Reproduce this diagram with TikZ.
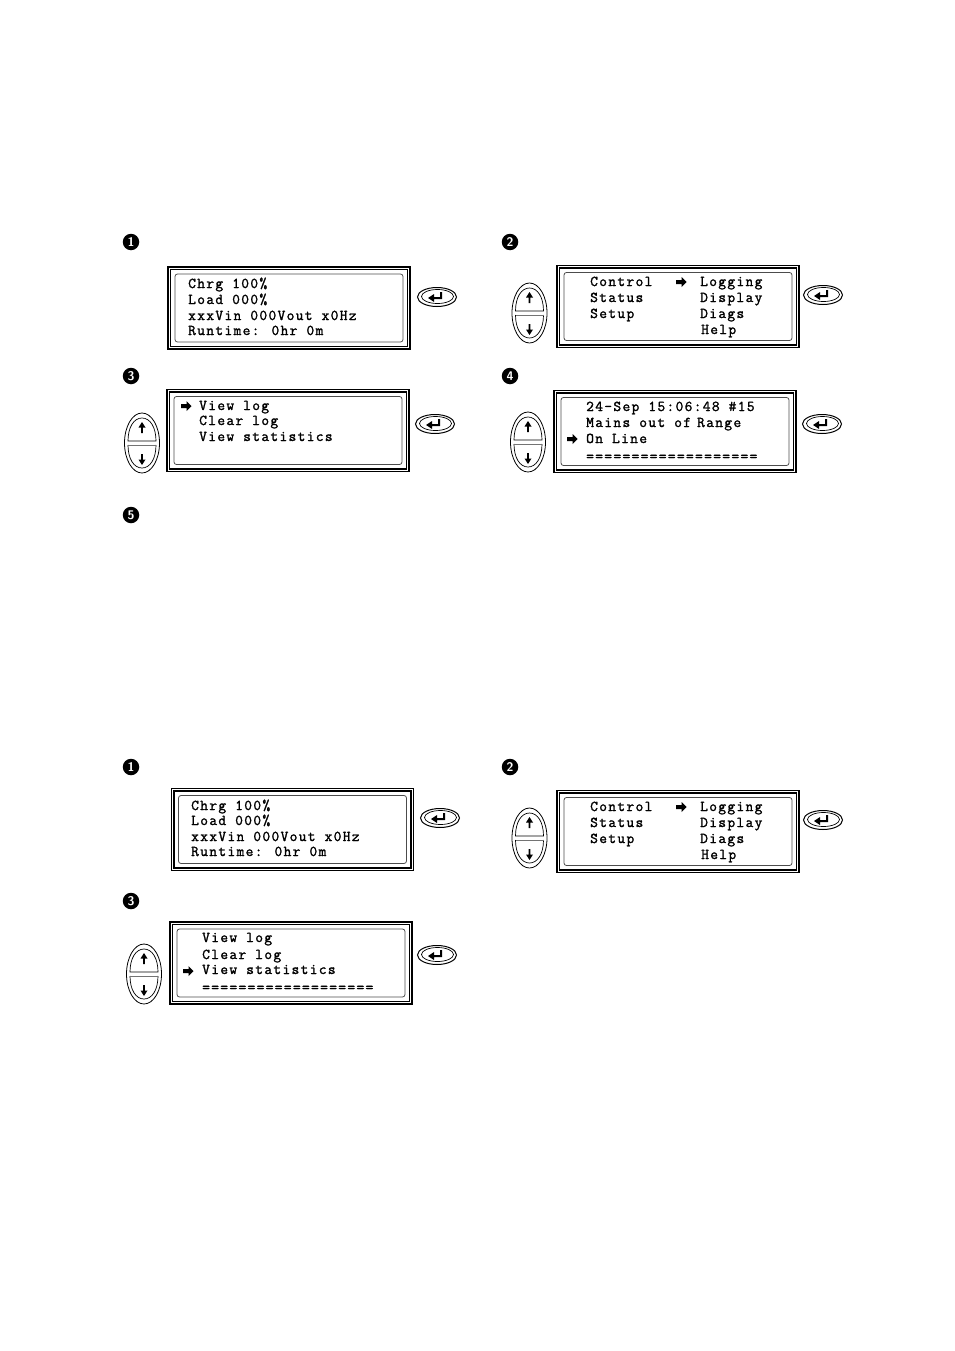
\documentclass[tikz,border=0pt]{standalone}
\usepackage{fontspec}
\usepackage{tikz}
\usetikzlibrary{positioning}
\newfontfamily\lcdfont[LetterSpace=9,FakeBold=1.6]{Latin Modern Mono}
\begin{document}
\begin{tikzpicture}
[x=1pt,y=-1pt,
bullet/.style={circle,fill=black,text=white,inner sep=0pt,minimum size=16.5pt,font=\sffamily\bfseries\fontsize{12.5}{12.5}\selectfont},
lcdframe/.style={draw=black,line width=1.2pt,double=white,double distance=1.3pt,inner sep=0pt,minimum width=239.5pt,minimum height=79.5pt},
lcdinner/.style={draw=black!70,line width=0.8pt,rounded corners=2.5pt,inner sep=0pt,minimum width=228pt,minimum height=68pt},
lcdtext/.style={anchor=base west,inner sep=0pt,font=\lcdfont\fontsize{15}{15}\selectfont},
updown/.pic={
  \draw[line width=0.8pt] (0,0) ellipse (17.5 and 30);
  \draw[line width=0.7pt] (-14,-2) .. controls (-14,-16) and (-8,-25) .. (0,-25) .. controls (8,-25) and (14,-16) .. (14,-2) -- cycle;
  \draw[line width=0.7pt] (-14,2) .. controls (-14,16) and (-8,25) .. (0,25) .. controls (8,25) and (14,16) .. (14,2);
  \draw[line width=1pt,draw=black!55] (-14,2) -- (14,2);
  \fill (0,-21) -- (3.5,-15.5) -- (0.9,-15.5) -- (0.9,-10) -- (-0.9,-10) -- (-0.9,-15.5) -- (-3.5,-15.5) -- cycle;
  \fill (0,22) -- (3.5,16.5) -- (0.9,16.5) -- (0.9,11) -- (-0.9,11) -- (-0.9,16.5) -- (-3.5,16.5) -- cycle;
},
enterkey/.pic={
  \draw[line width=1pt] (0,0) ellipse (19.5 and 9.5);
  \draw[line width=0.7pt] (0.5,-0.5) ellipse (16 and 7);
  \fill (-9,1) -- (-3,-3) -- (-3,0) -- (3,0) -- (3,-5) -- (5,-5) -- (5,2) -- (-3,2) -- (-3,5) -- cycle;
},
pointer/.pic={
  \fill (5.5,0) -- (0.5,-5) -- (0.5,-2) -- (-5,-2) -- (-5,2) -- (0.5,2) -- (0.5,5) -- cycle;
}]
\useasboundingbox (0,0) rectangle (954,1351);

% first procedure
\node[bullet] (n1) at (131,242) {1};
\node[bullet] (n2) at (510,242) {2};
\node[bullet] (n3) at (131,376) {3};
\node[bullet] (n4) at (510,376) {4};
\node[bullet] (n5) at (131,515) {5};

\node[lcdframe] (f1) at (289,308) {};
\node[lcdinner] (i1) at (289,308) {};
\node[lcdtext] (t1a) at (188,288) {Chrg 100\%};
\node[lcdtext] (t1b) at (188,304) {Load 000\%};
\node[lcdtext] (t1c) at (188,320) {xxxVin 000Vout x0Hz};
\node[lcdtext] (t1d) at (188,335) {Runtime: 0hr 0m};
\pic at (437,297) {enterkey};

\node[lcdframe] (f2) at (678,306.5) {};
\node[lcdinner] (i2) at (678,306.5) {};
\node[lcdtext] (t2a) at (590,286) {Control};
\node[lcdtext] (t2b) at (590,302) {Status};
\node[lcdtext] (t2c) at (590,318) {Setup};
\node[lcdtext] (t2d) at (700,286) {Logging};
\node[lcdtext] (t2e) at (700,302) {Display};
\node[lcdtext] (t2f) at (700,318) {Diags};
\node[lcdtext] (t2g) at (701,334) {Help};
\pic at (681,282) {pointer};
\pic at (529.5,313) {updown};
\pic at (823,295) {enterkey};

\node[lcdframe] (f3) at (288,430.5) {};
\node[lcdinner] (i3) at (288,430.5) {};
\node[lcdtext] (t3a) at (199,410) {View log};
\node[lcdtext] (t3b) at (199,425) {Clear log};
\node[lcdtext] (t3c) at (199,441) {View statistics};
\pic at (186,406) {pointer};
\pic at (142,443) {updown};
\pic at (435,424) {enterkey};

\node[lcdframe] (f4) at (675,431.5) {};
\node[lcdinner] (i4) at (675,431.5) {};
\node[lcdtext] (t4a) at (586,411) {24-Sep 15:06:48 \#15};
\node[lcdtext] (t4b) at (586,427) {Mains out of\hspace{-3pt} Range};
\node[lcdtext] (t4c) at (586,443) {On Line};
\node[lcdtext] (t4d) at (586,461) {===================};
\pic at (572,439) {pointer};
\pic at (528,442) {updown};
\pic at (822,424) {enterkey};

% second procedure
\node[bullet] (m1) at (131,767) {1};
\node[bullet] (m2) at (510,767) {2};
\node[bullet] (m3) at (131,901) {3};

\node[lcdframe] (g1) at (292.5,829.5) {};
\node[lcdinner] (j1) at (292.5,829.5) {};
\node[lcdtext] (s1a) at (191,810) {Chrg 100\%};
\node[lcdtext] (s1b) at (191,825) {Load 000\%};
\node[lcdtext] (s1c) at (191,841) {xxxVin 000Vout x0Hz};
\node[lcdtext] (s1d) at (191,856) {Runtime: 0hr 0m};
\pic at (440,818) {enterkey};

\node[lcdframe] (g2) at (678,831.5) {};
\node[lcdinner] (j2) at (678,831.5) {};
\node[lcdtext] (s2a) at (590,811) {Control};
\node[lcdtext] (s2b) at (590,827) {Status};
\node[lcdtext] (s2c) at (590,843) {Setup};
\node[lcdtext] (s2d) at (700,811) {Logging};
\node[lcdtext] (s2e) at (700,827) {Display};
\node[lcdtext] (s2f) at (700,843) {Diags};
\node[lcdtext] (s2g) at (701,859) {Help};
\pic at (681,807) {pointer};
\pic at (529.5,838) {updown};
\pic at (823,820) {enterkey};

\node[lcdframe] (g3) at (291,963) {};
\node[lcdinner] (j3) at (291,963) {};
\node[lcdtext] (s3a) at (202,942) {View log};
\node[lcdtext] (s3b) at (202,959) {Clear log};
\node[lcdtext] (s3c) at (202,974) {View statistics};
\node[lcdtext] (s3d) at (202,992) {===================};
\pic at (188,971) {pointer};
\pic at (144,974) {updown};
\pic at (437,955) {enterkey};
\end{tikzpicture}
\end{document}
